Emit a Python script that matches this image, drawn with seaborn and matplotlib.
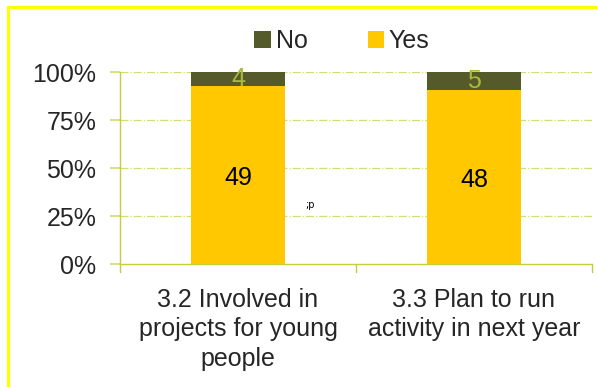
import matplotlib
matplotlib.use("Agg")
import matplotlib.pyplot as plt
from matplotlib.patches import Rectangle, Patch
from matplotlib.ticker import PercentFormatter
import seaborn as sns
import pandas as pd

categories = ["3.2 Involved in\nprojects for young\npeople",
              "3.3 Plan to run\nactivity in next year"]
yes_counts = [49, 48]
no_counts = [4, 5]
ytick_values = [0, 0.25, 0.5, 0.75, 1.0]

YES_COLOR = "#FFC800"
NO_COLOR = "#555A2A"
GRID_COLOR = "#D3DE72"
AXIS_COLOR = "#C6CC3C"

sns.set_theme(style="white")
plt.rcParams["font.family"] = ["Liberation Sans", "DejaVu Sans"]

totals = [y + n for y, n in zip(yes_counts, no_counts)]
df = pd.DataFrame({
    "category": categories,
    "yes_share": [y / t for y, t in zip(yes_counts, totals)],
    "total_share": [1.0] * len(categories),
})

fig = plt.figure(figsize=(5.97, 3.87), dpi=100)
ax = fig.add_axes([120 / 597, 1 - 264 / 387, 472 / 597, 192 / 387])

# stacked 100% bars: full height in "No" colour, "Yes" share drawn over it
sns.barplot(data=df, x="category", y="total_share", color=NO_COLOR,
            width=0.4, saturation=1, ax=ax, zorder=3, linewidth=0)
sns.barplot(data=df, x="category", y="yes_share", color=YES_COLOR,
            width=0.4, saturation=1, ax=ax, zorder=3, linewidth=0)

for i, (y_c, n_c, t) in enumerate(zip(yes_counts, no_counts, totals)):
    ys = y_c / t
    ax.text(i, ys / 2 - 0.015, str(y_c), ha="center", va="center",
            fontsize=18, color="black", zorder=5)
    ax.text(i, ys + (1 - ys) / 2, str(n_c), ha="center", va="center",
            fontsize=18, color="#A9BA3A", zorder=5)

ax.set_xlim(-0.5, len(categories) - 0.5)
ax.set_ylim(0, 1)
ax.set_yticks(ytick_values)
ax.yaxis.set_major_formatter(PercentFormatter(1.0, decimals=0))
ax.set_xlabel("")
ax.set_ylabel("")

for v in ytick_values[1:]:
    ax.axhline(v, color=GRID_COLOR, lw=0.9, ls="-.", zorder=1)

for side in ["top", "right"]:
    ax.spines[side].set_visible(False)
for side in ["left", "bottom"]:
    ax.spines[side].set_color(AXIS_COLOR)
    ax.spines[side].set_linewidth(1.0)

ax.tick_params(axis="y", length=7, color=GRID_COLOR, labelsize=18,
               pad=10, left=True, direction="out")
ax.tick_params(axis="x", length=0, labelsize=18, pad=17)
for lbl in ax.get_xticklabels():
    lbl.set_linespacing(1.3)
    lbl.set_verticalalignment("top")

# category boundary ticks below the axis
for xb in [-0.5, 0.5, 1.5]:
    ax.plot([xb, xb], [0, -0.04], color=AXIS_COLOR, lw=1.0,
            clip_on=False, zorder=4)

ax.text(0.285, 0.29, ";p", fontsize=7, color="black",
        family="DejaVu Sans")

handles = [Patch(facecolor=NO_COLOR, edgecolor="none", label="No"),
           Patch(facecolor=YES_COLOR, edgecolor="none", label="Yes")]
fig.legend(handles=handles, loc="center", bbox_to_anchor=(342 / 597, 1 - 41 / 387),
           ncol=2, frameon=False, fontsize=18, handlelength=0.65,
           handleheight=0.65, handletextpad=0.2, columnspacing=2.4,
           borderpad=0)

# outer yellow frame
fig.patches.append(Rectangle((8 / 597, -0.1), 1.2, 1.1 - 7 / 387,
                             transform=fig.transFigure, fill=False,
                             edgecolor="#FFFF00", lw=2.2))

fig.savefig("out.png", dpi=100)
